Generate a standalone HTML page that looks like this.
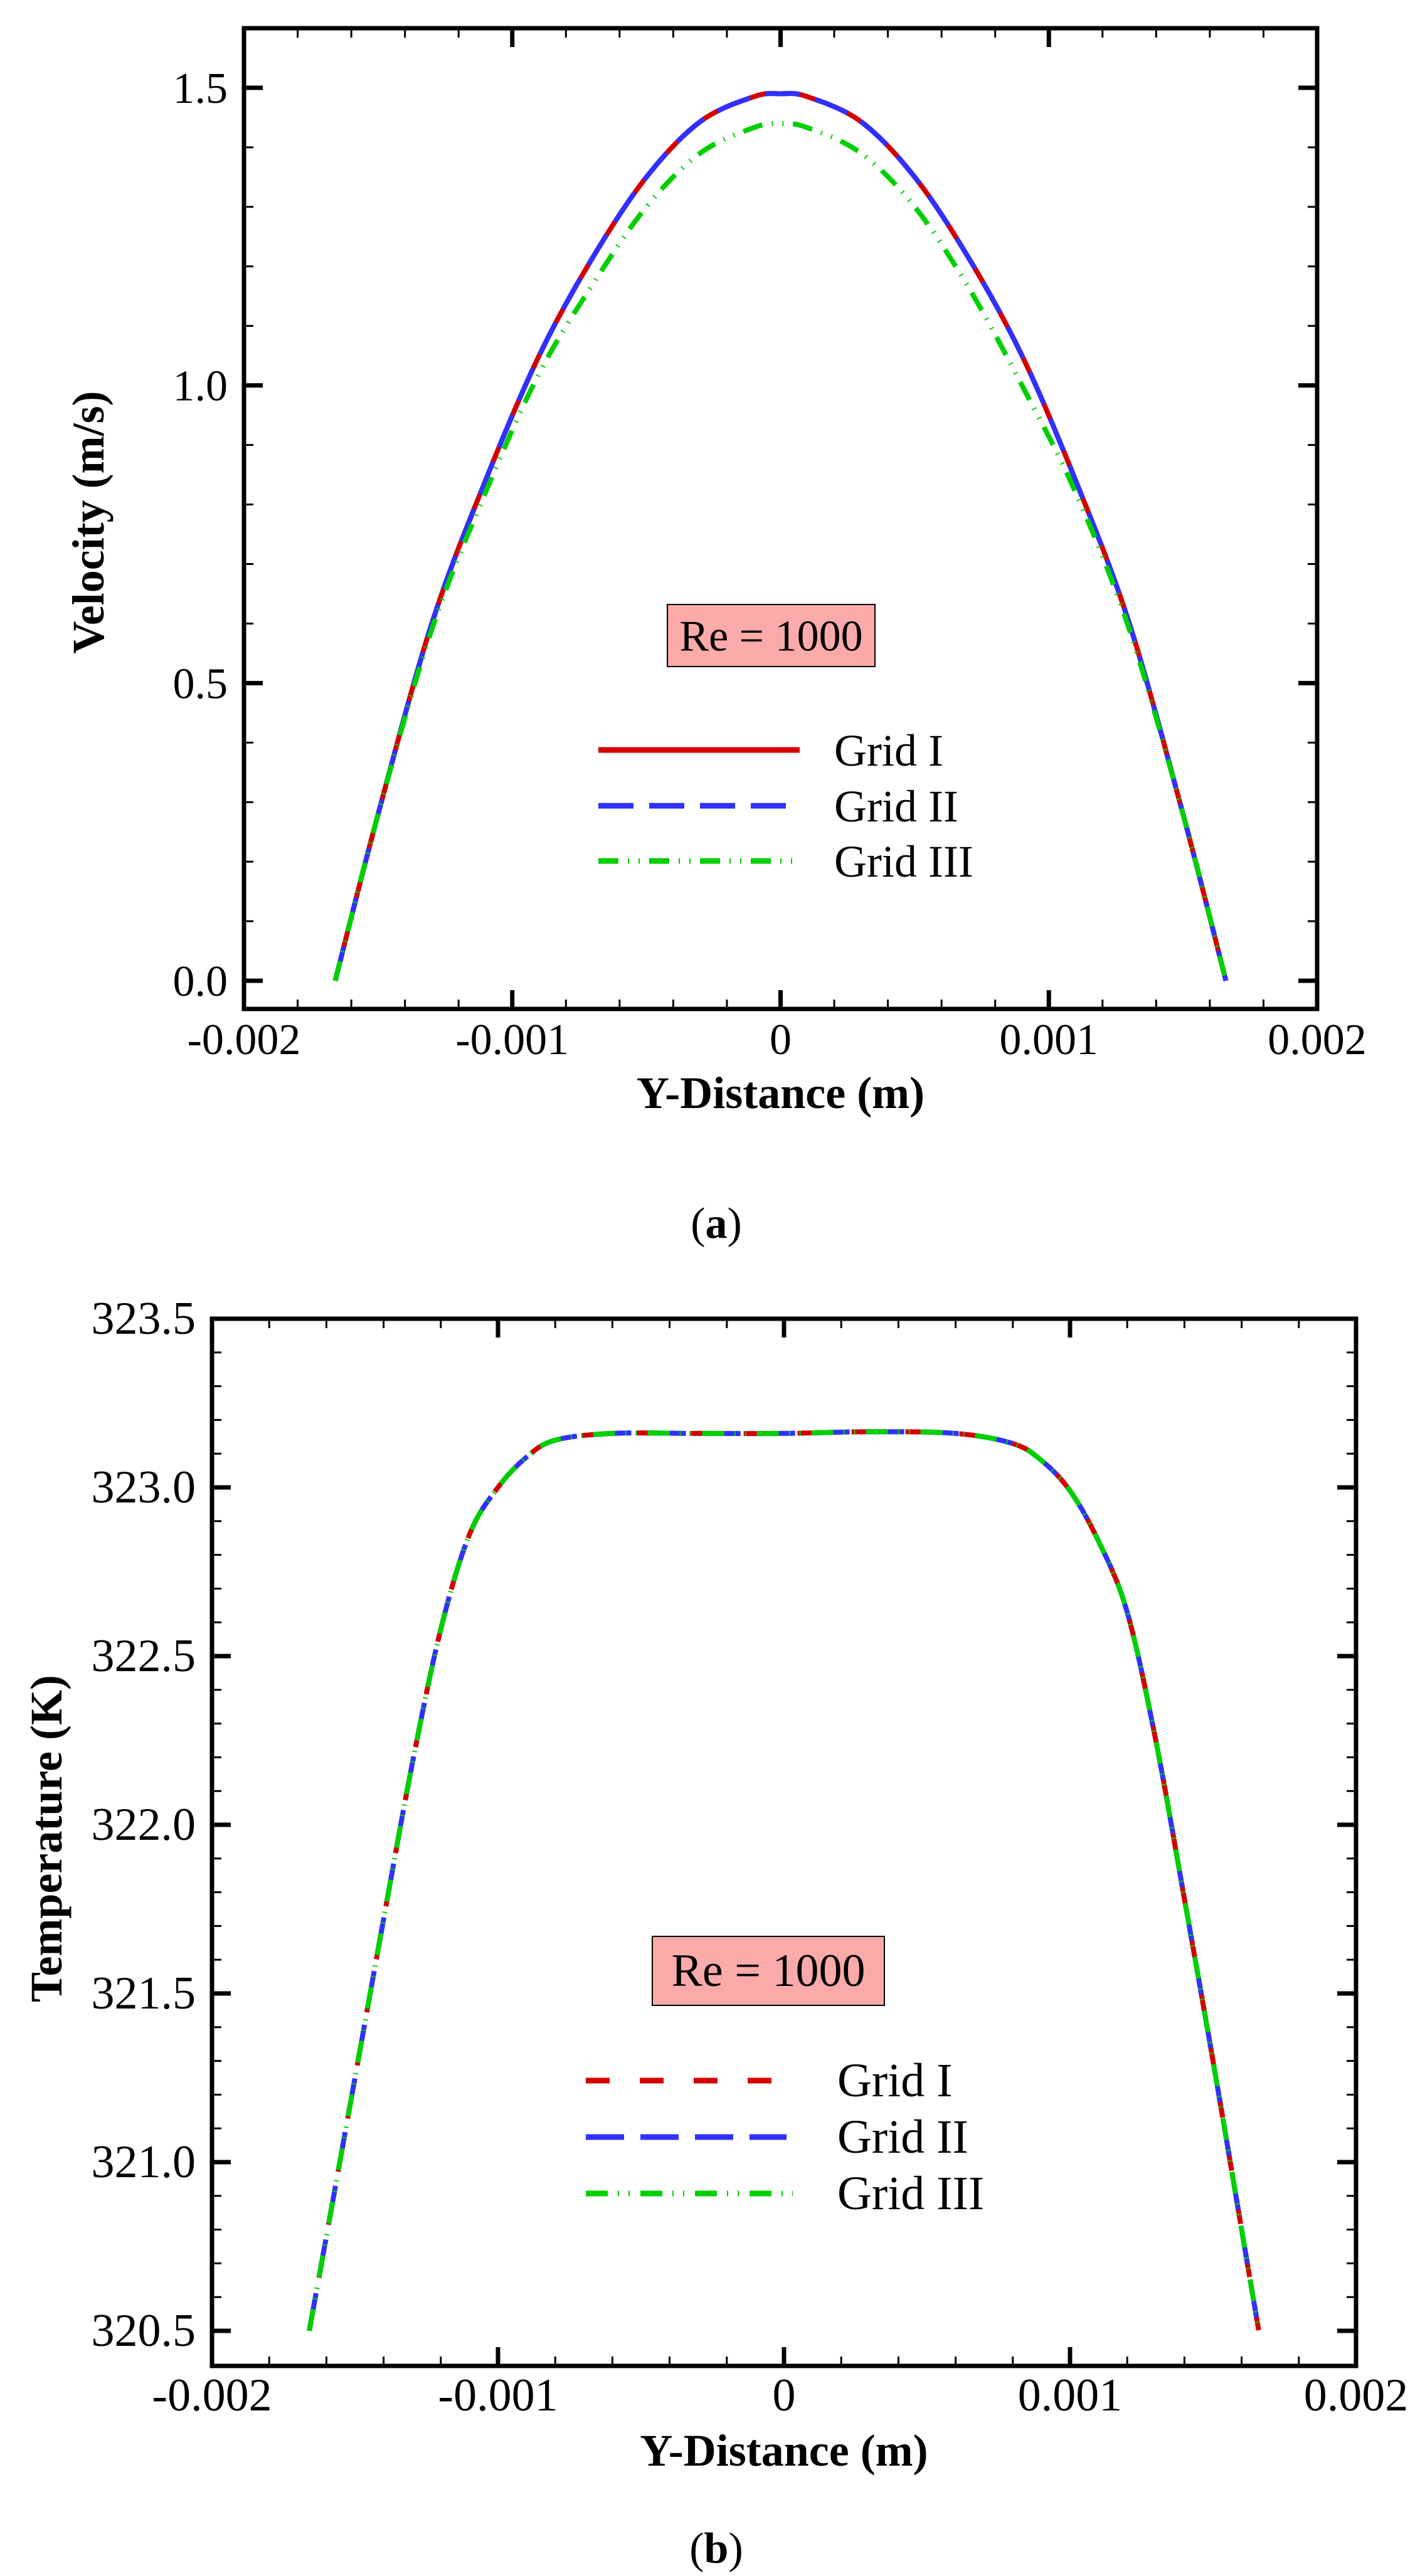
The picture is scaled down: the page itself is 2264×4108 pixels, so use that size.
<!DOCTYPE html>
<html><head><meta charset="utf-8"><style>
html,body{margin:0;padding:0;background:#fff;}
svg{display:block;font-family:"Liberation Serif",serif;}
</style></head><body>
<svg id="fig" width="2264" height="4108" viewBox="0 0 2264 4108" xmlns="http://www.w3.org/2000/svg">
<g id="pa"></g>
<g id="pb"></g>
<text x="1142" y="1974" font-size="70" text-anchor="middle">(<tspan font-weight="bold">a</tspan>)</text>
<text x="1142" y="4087" font-size="70" text-anchor="middle">(<tspan font-weight="bold">b</tspan>)</text>
</svg>
<script>
// ---- chart A data (x in units of 0.001 m) ----
const xA = [-1.66,-1.5,-1.3,-1.1,-0.9,-0.7,-0.5,-0.3,-0.1,0,0.1,0.3,0.5,0.7,0.9,1.1,1.3,1.5,1.66];
const velGrid1 = [0,0.28,0.60,0.84,1.05,1.215,1.35,1.443,1.485,1.49,1.485,1.443,1.35,1.215,1.05,0.84,0.60,0.28,0];
const velGrid2 = [0,0.28,0.60,0.84,1.05,1.215,1.35,1.443,1.485,1.49,1.485,1.443,1.35,1.215,1.05,0.84,0.60,0.28,0];
const velGrid3 = [0,0.28,0.59,0.82,1.02,1.17,1.30,1.39,1.433,1.44,1.433,1.39,1.30,1.165,1.0,0.82,0.59,0.28,0];
const yTicksA = ["0.0","0.5","1.0","1.5"];
const xTickLabels = ["-0.002","-0.001","0","0.001","0.002"];
// ---- chart B data ----
const xB = [-1.66,-1.6,-1.5,-1.4,-1.3,-1.2,-1.1,-1.0,-0.9,-0.8,-0.6,-0.3,0,0.3,0.6,0.8,0.9,1.0,1.1,1.2,1.3,1.4,1.5,1.6,1.66];
const tGrid1 = [320.5,320.78,321.25,321.72,322.18,322.58,322.86,323.0,323.09,323.14,323.16,323.16,323.16,323.165,323.16,323.13,323.08,322.99,322.84,322.63,322.25,321.78,321.3,320.8,320.5];
const tGrid2 = [320.5,320.78,321.25,321.72,322.18,322.58,322.86,323.0,323.09,323.14,323.16,323.16,323.16,323.165,323.16,323.13,323.08,322.99,322.84,322.63,322.25,321.78,321.3,320.8,320.5];
const tGrid3 = [320.5,320.78,321.25,321.72,322.18,322.58,322.86,323.0,323.09,323.14,323.16,323.16,323.16,323.165,323.16,323.13,323.08,322.99,322.84,322.63,322.25,321.78,321.3,320.8,320.5];
const yTicksB = ["320.5","321.0","321.5","322.0","322.5","323.0","323.5"];

const NS="http://www.w3.org/2000/svg";
function mk(parent,tag,attrs){const e=document.createElementNS(NS,tag);for(const k in attrs)e.setAttribute(k,attrs[k]);parent.appendChild(e);return e;}
function smooth(pts){let d="M"+pts[0][0]+","+pts[0][1];
 for(let i=0;i<pts.length-1;i++){const p0=pts[Math.max(0,i-1)],p1=pts[i],p2=pts[i+1],p3=pts[Math.min(pts.length-1,i+2)];
 const c1=[p1[0]+(p2[0]-p0[0])/6,p1[1]+(p2[1]-p0[1])/6],c2=[p2[0]-(p3[0]-p1[0])/6,p2[1]-(p3[1]-p1[1])/6];
 d+=" C"+c1[0]+","+c1[1]+" "+c2[0]+","+c2[1]+" "+p2[0]+","+p2[1];}return d;}

function chart(g,cfg){
 const {L,R,T,B,ymin,ymax,ytv,ytl,minorY,fs,labX,xlabY,title,titleX,titleY}=cfg;
 const sx=v=>L+(v+2)/4*(R-L);
 const sy=v=>B-(v-ymin)/(ymax-ymin)*(B-T);
 for(let i=0;i<=20;i++){const x=sx(-2+i*0.2);const major=i%5===0;const len=major?30:15;
  const t1=mk(g,"line",{x1:x,y1:B,x2:x,y2:B-len,stroke:"#000","stroke-width":major?7:3});
  
  
  const t2=mk(g,"line",{x1:x,y1:T,x2:x,y2:T+len,stroke:"#000","stroke-width":major?7:3});
  
  }
 for(let k=0;;k++){const v=cfg.minStart+k*minorY;if(v>ymax+1e-9)break;const y=sy(v);const major=Math.abs(Math.round(v*2)-v*2)<1e-6;const len=major?30:15;
  const t1=mk(g,"line",{x1:L,y1:y,x2:L+len,y2:y,stroke:"#000","stroke-width":major?7:3});
  
  
  const t2=mk(g,"line",{x1:R,y1:y,x2:R-len,y2:y,stroke:"#000","stroke-width":major?7:3});
  
  }
 const fr=mk(g,"rect",{x:L,y:T,width:R-L,height:B-T,fill:"none",stroke:"#000","stroke-width":7});
 
 
 ytl.forEach((s,i)=>{const t=mk(g,"text",{x:labX,y:sy(ytv[i])+24,"font-size":fs,"text-anchor":"end"});t.textContent=s;
  
  });
 xTickLabels.forEach((s,i)=>{const t=mk(g,"text",{x:sx(-2+i),y:xlabY,"font-size":fs,"text-anchor":"middle"});t.textContent=s;
  
  });
 const xt=mk(g,"text",{x:(L+R)/2,y:cfg.xtitleY,"font-size":72,"font-weight":"bold","text-anchor":"middle"});xt.textContent="Y-Distance (m)";
 
 
 const yt=mk(g,"text",{x:0,y:0,"font-size":72,"font-weight":"bold","text-anchor":"middle",transform:`translate(${titleX},${titleY}) rotate(-90)`});yt.textContent=title;
 
 
 cfg.series.forEach(s=>{const pts=s.x.map((xv,i)=>[sx(xv),sy(s.y[i])]);
  const p=mk(g,"path",{d:smooth(pts),fill:"none",stroke:s.c,"stroke-width":8,"stroke-dasharray":s.dash});
  
  });
 const bx=cfg.box;const r=mk(g,"rect",{x:bx[0],y:bx[1],width:bx[2],height:bx[3],fill:"#f9aaa9",stroke:"#000","stroke-width":2});
 
 
 const rt=mk(g,"text",{x:bx[0]+bx[2]/2,y:bx[1]+bx[3]/2+24,"font-size":fs,"text-anchor":"middle"});rt.textContent="Re = 1000";
 
 
 cfg.legend.forEach(l=>{const ln=mk(g,"line",{x1:l.x1,y1:l.y,x2:l.x2,y2:l.y,stroke:l.c,"stroke-width":9,"stroke-dasharray":l.dash});
  
  
  const t=mk(g,"text",{x:l.tx,y:l.y+25,"font-size":l.fs,"text-anchor":"start"});t.textContent=l.label;
  
  });
}
const g3a="32 15 2 15 2 15", g3b="35 16 2 15 2 17";
const perA=1.5/(1564-140);
chart(document.getElementById("pa"),{L:389,R:2100,T:45,B:1609,ymin:-(1609-1564)*perA,ymax:1.5+(140-45)*perA,ytv:[0,0.5,1,1.5],ytl:yTicksA,minorY:0.1,minStart:0,fs:70,labX:363,xlabY:1681,xtitleY:1767,title:"Velocity (m/s)",titleX:165,titleY:833,
 series:[{name:"grid1-velocity-line",x:xA,y:velGrid1,c:"#d40000",dash:"none"},{name:"grid2-velocity-line",x:xA,y:velGrid2,c:"#3030ff",dash:"56 25"},{name:"grid3-velocity-line",x:xA,y:velGrid3,c:"#00d000",dash:g3a}],
 box:[1064,964,331,99],
 legend:[{x1:954,x2:1275,y:1196,c:"#d40000",dash:"none",tx:1330,label:"Grid I",fs:72},{x1:954,x2:1255,y:1285,c:"#3030ff",dash:"56 25",tx:1330,label:"Grid II",fs:72},{x1:954,x2:1265,y:1373,c:"#00d000",dash:g3a,tx:1330,label:"Grid III",fs:72}]});
chart(document.getElementById("pb"),{L:338,R:2162,T:2103,B:3773,ymin:320.5-(3773-3717)/((3717-2103)/3),ymax:323.5,ytv:[320.5,321,321.5,322,322.5,323,323.5],ytl:yTicksB,minorY:0.1,minStart:320.5,fs:74,labX:312,xlabY:3844,xtitleY:3932,title:"Temperature (K)",titleX:98,titleY:2932,
 series:[{name:"grid1-temperature-line",x:xB,y:tGrid1,c:"#d40000",dash:"38 48"},{name:"grid2-temperature-line",x:xB,y:tGrid2,c:"#3030ff",dash:"61 26"},{name:"grid3-temperature-line",x:xB,y:tGrid3,c:"#00d000",dash:g3b}],
 box:[1040,3088,370,110],
 legend:[{x1:934,x2:1232,y:3318,c:"#d40000",dash:"38 48",tx:1335,label:"Grid I",fs:76},{x1:934,x2:1254,y:3408,c:"#3030ff",dash:"61 26",tx:1335,label:"Grid II",fs:76},{x1:934,x2:1264,y:3498,c:"#00d000",dash:g3b,tx:1335,label:"Grid III",fs:76}]});
</script>
</body></html>
